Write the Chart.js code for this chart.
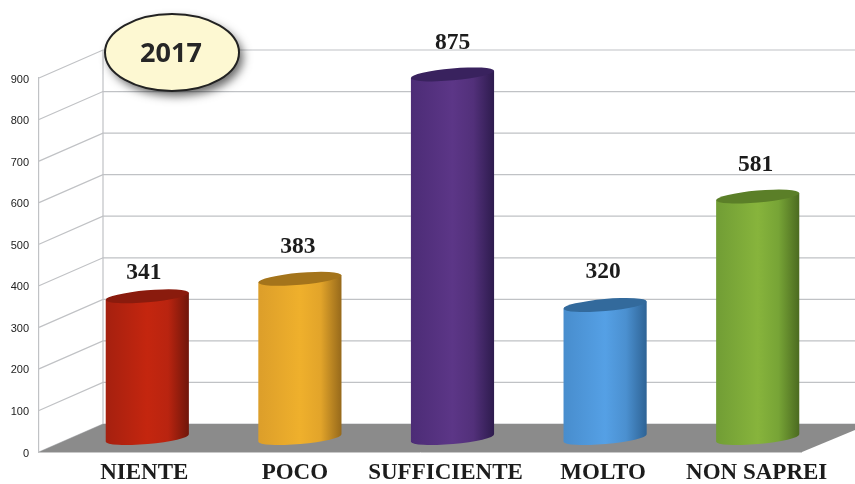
<!DOCTYPE html>
<html lang="it">
<head>
    <meta charset="UTF-8">
    <title>2017</title>
    <style>
        html, body {margin: 0; padding: 0; background: #fff;}
        canvas {display: block;}
    </style>
    <script src="https://cdn.jsdelivr.net/npm/chart.js"></script>
</head>
<body>
    <canvas id="grafico" width="855" height="484"></canvas>

    <script>
        const anno = "2017";
        const categorie = ["NIENTE", "POCO", "SUFFICIENTE", "MOLTO", "NON SAPREI"];
        const valori = [341, 383, 875, 320, 581];
        const tacche = [0, 100, 200, 300, 400, 500, 600, 700, 800, 900];

        // sinistra, centro, spalla, destra, coperchio
        const colori = [
            ["#a5200f", "#c4260f", "#b92410", "#6f160a", "#8a1b0d"],
            ["#dc9e2a", "#efb02c", "#e2a42a", "#96691b", "#a4741b"],
            ["#4c2c76", "#5c3687", "#52307a", "#2d1b4d", "#39225e"],
            ["#488dcd", "#55a0e5", "#4b90d0", "#2e6395", "#336a9c"],
            ["#719d35", "#87b43c", "#77a436", "#4b6a20", "#5b7f28"]
        ];

        // scostamenti a mano delle scritte rispetto alle colonne
        const spostaValore = [[-3.5, 10], [-2, 1.5], [0, 2], [-2, 0], [-2, 1.5]];
        const spostaNome = [-3, -5, -7, -2, -1];

        const profX = 64, profY = 28;   // profondita del pavimento
        const grigioLinee = "#c0c2c5";

        const sfondo3d = {
            id: "sfondo3d",
            beforeDatasetsDraw(chart) {
                const c = chart.ctx, sy = chart.scales.y, a = chart.chartArea;
                const w = chart.width;
                const y0 = sy.getPixelForValue(0);

                c.save();
                c.strokeStyle = grigioLinee;
                c.lineWidth = 1.2;
                tacche.forEach(t => {
                    const y = sy.getPixelForValue(t);
                    c.beginPath();
                    c.moveTo(a.left, y);
                    c.lineTo(a.left + profX, y - profY);
                    c.lineTo(w, y - profY);
                    c.stroke();
                });
                c.beginPath();
                c.moveTo(a.left + profX, sy.getPixelForValue(900) - profY);
                c.lineTo(a.left + profX, y0 - profY);
                c.stroke();

                // pavimento
                c.fillStyle = "#8b8b8b";
                c.beginPath();
                c.moveTo(a.left, y0);
                c.lineTo(a.left + profX, y0 - profY);
                c.lineTo(w, y0 - profY);
                c.lineTo(w, y0 - 22);
                c.lineTo(a.right, y0);
                c.closePath();
                c.fill();
                c.strokeStyle = "#c8c8c8";
                c.lineWidth = 1;
                c.beginPath();
                c.moveTo(a.left, y0 + 0.5);
                c.lineTo(a.right, y0 + 0.5);
                c.stroke();
                c.restore();
            },
            afterDatasetsDraw(chart) {
                const c = chart.ctx;
                const barre = chart.getDatasetMeta(0).data;
                const ang = -5 * Math.PI / 180;

                c.save();
                barre.forEach((b, i) => {
                    const x = b.x + profX / 2;
                    const yTop = b.y - profY / 2;
                    const yBase = b.base - profY / 2;
                    const rx = b.width / 2, ry = 6;
                    const col = colori[i];

                    const g = c.createLinearGradient(x - rx, 0, x + rx, 0);
                    g.addColorStop(0, col[0]);
                    g.addColorStop(0.5, col[1]);
                    g.addColorStop(0.75, col[2]);
                    g.addColorStop(1, col[3]);

                    const dx = rx * Math.cos(ang), dy = rx * Math.sin(ang);
                    c.fillStyle = g;
                    c.beginPath();
                    c.moveTo(x - dx, yTop - dy);
                    c.lineTo(x - dx, yBase - dy);
                    c.ellipse(x, yBase, rx, ry, ang, Math.PI, 0, true);
                    c.lineTo(x + dx, yTop + dy);
                    c.closePath();
                    c.fill();

                    c.fillStyle = col[4];
                    c.beginPath();
                    c.ellipse(x, yTop, rx, ry, ang, 0, Math.PI * 2);
                    c.fill();

                    // valore sopra la colonna
                    c.fillStyle = "#1c1c1c";
                    c.font = "bold 23.5px 'Liberation Serif', serif";
                    c.textAlign = "center";
                    c.textBaseline = "middle";
                    c.fillText(valori[i], x + spostaValore[i][0], yTop - 33 + spostaValore[i][1]);
                });

                // nomi sotto il pavimento
                const sx = chart.scales.x;
                c.fillStyle = "#1c1c1c";
                c.font = "bold 23px 'Liberation Serif', serif";
                c.textAlign = "center";
                c.textBaseline = "middle";
                categorie.forEach((n, i) => {
                    c.fillText(n, sx.getPixelForTick(i) + profX / 2 + spostaNome[i], 473.5);
                });

                // fumetto con l'anno
                c.fillStyle = "#fdf8d2";
                c.strokeStyle = "#222";
                c.lineWidth = 2;
                c.shadowColor = "rgba(0,0,0,0.6)";
                c.shadowBlur = 10;
                c.shadowOffsetX = 4;
                c.shadowOffsetY = 5;
                c.beginPath();
                c.ellipse(172, 52.5, 67, 38.5, 0, 0, Math.PI * 2);
                c.fill();
                c.shadowColor = "transparent";
                c.stroke();
                c.fillStyle = "#262626";
                c.font = "bold 27px 'Open Sans', sans-serif";
                c.fillText(anno, 171, 54);
                c.restore();
            }
        };

        new Chart(document.getElementById("grafico"), {
            type: "bar",
            data: {
                labels: categorie,
                datasets: [{
                    data: valori,
                    backgroundColor: "transparent",
                    barPercentage: 0.547,
                    categoryPercentage: 1
                }]
            },
            options: {
                responsive: false,
                animation: false,
                layout: {padding: {top: 78, right: 53, bottom: 0, left: 0}},
                plugins: {legend: {display: false}, tooltip: {enabled: false}},
                scales: {
                    x: {
                        offset: true,
                        grid: {display: false},
                        border: {display: false},
                        ticks: {display: false},
                        afterFit(s) { s.height = 32; }
                    },
                    y: {
                        min: 0,
                        max: 900,
                        afterBuildTicks(s) { s.ticks = tacche.map(v => ({value: v})); },
                        afterFit(s) { s.width = 39; },
                        grid: {display: false, drawTicks: false},
                        border: {display: true, color: grigioLinee, width: 1.2},
                        ticks: {
                            padding: 10,
                            labelOffset: 1.5,
                            color: "#222",
                            font: {family: "'Liberation Sans', Arial, sans-serif", size: 11}
                        }
                    }
                }
            },
            plugins: [sfondo3d]
        });
    </script>
</body>
</html>
